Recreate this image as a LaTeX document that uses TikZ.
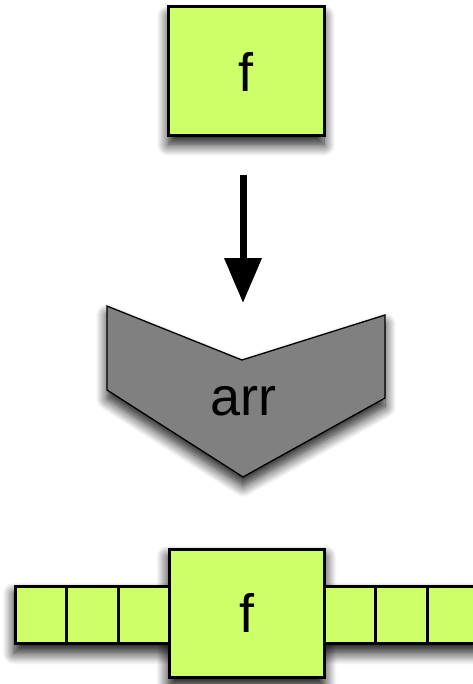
\documentclass[tikz,border=0pt]{standalone}
\usepackage{fontspec}
\setmainfont{Liberation Sans}
\usetikzlibrary{shadows.blur,arrows.meta,backgrounds}
\definecolor{lime}{HTML}{CFFF68}
\definecolor{chev}{HTML}{808080}
\tikzset{
  mysh/.style={blur shadow={shadow xshift=0pt,shadow yshift=-9pt,shadow blur radius=11pt,shadow blur steps=12,shadow opacity=90}},
  gbox/.style={draw=black,line width=3pt,fill=lime,inner sep=0pt,font=\fontsize{54}{54}\selectfont},
  cell/.style={gbox,minimum width=51.5pt,minimum height=57pt},
}
\begin{document}
\begin{tikzpicture}[x=1pt,y=-1pt]
\useasboundingbox (0,0) rectangle (472,684);
% top box
\node[gbox,mysh,minimum width=156pt,minimum height=129pt] (top) at (246,71.5) {f};
% arrow
\coordinate (as) at (243,175);
\coordinate (ae) at (243,303);
\draw[line width=7pt,-{Triangle[width=36pt,length=45pt]}] (as) -- (ae);
% chevron
\coordinate (c1) at (107,306);
\coordinate (c2) at (242,360);
\coordinate (c3) at (385,315);
\coordinate (c4) at (385,398);
\coordinate (c5) at (243,477);
\coordinate (c6) at (107,390);
\draw[mysh,fill=chev,draw=black,line width=1.3pt,line join=miter] (c1) -- (c2) -- (c3) -- (c4) -- (c5) -- (c6) -- cycle;
\node[font=\fontsize{54}{54}\selectfont] (arr) at (243,401) {arr};
% bottom row
\node[cell] (l1) at (41,614.5) {};
\node[cell] (l2) at (92.5,614.5) {};
\node[cell] (l3) at (144,614.5) {};
\node[cell] (r1) at (350,614.5) {};
\node[cell] (r2) at (401.5,614.5) {};
\node[cell] (r3) at (453,614.5) {};
\node[gbox,minimum width=155pt,minimum height=128pt] (big) at (246.5,613) {f};
\begin{scope}[on background layer]
\path[mysh] (l1.north west) rectangle (r3.south east);
\path[mysh] (big.north west) rectangle (big.south east);
\end{scope}
\end{tikzpicture}
\end{document}
